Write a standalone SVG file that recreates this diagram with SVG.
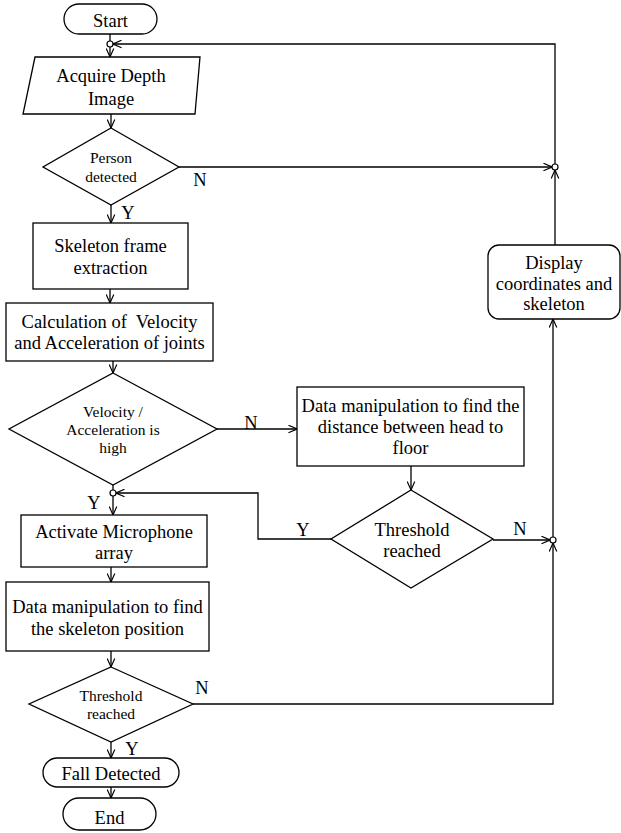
<svg xmlns="http://www.w3.org/2000/svg" width="621" height="833" viewBox="0 0 621 833">
<style>
.s{fill:#fff;stroke:#000;stroke-width:1.3}
.t{font-family:"Liberation Serif","Times New Roman",serif;font-size:18.5px;fill:#000;text-anchor:middle}
.sm{font-size:15.5px}
.c{fill:none;stroke:#000;stroke-width:1.3}
.j{fill:#fff;stroke:#000;stroke-width:1.2}
</style>
<defs>
<marker id="arr" viewBox="0 0 10 10" refX="10" refY="5" markerWidth="9" markerHeight="9" markerUnits="userSpaceOnUse" orient="auto">
<path d="M0.5,0.8 L10,5 L0.5,9.2" fill="none" stroke="#000" stroke-width="1.3"/>
</marker>
</defs>
<g id="connectors">
<path class="c" d="M110,34 V41"/>
<path class="c" d="M110,47 V57" marker-end="url(#arr)"/>
<path class="c" d="M111,114 V128" marker-end="url(#arr)"/>
<path class="c" d="M111,205 V223" marker-end="url(#arr)"/>
<path class="c" d="M110,289 V303" marker-end="url(#arr)"/>
<path class="c" d="M113,361 V373" marker-end="url(#arr)"/>
<path class="c" d="M217,429 H297" marker-end="url(#arr)"/>
<path class="c" d="M113,485 V490"/>
<path class="c" d="M113,496 V515" marker-end="url(#arr)"/>
<path class="c" d="M411,466 V490" marker-end="url(#arr)"/>
<path class="c" d="M331,539 H258 V493 H116" marker-end="url(#arr)"/>
<path class="c" d="M493,540 H550" marker-end="url(#arr)"/>
<path class="c" d="M111,567 V582" marker-end="url(#arr)"/>
<path class="c" d="M111,651 V667" marker-end="url(#arr)"/>
<path class="c" d="M193,704 H553 V543" marker-end="url(#arr)"/>
<path class="c" d="M111,742 V758" marker-end="url(#arr)"/>
<path class="c" d="M111,787 V798" marker-end="url(#arr)"/>
<path class="c" d="M553,537 V319" marker-end="url(#arr)"/>
<path class="c" d="M555,245 V170" marker-end="url(#arr)"/>
<path class="c" d="M179,167 H552" marker-end="url(#arr)"/>
<path class="c" d="M555,164 V44 H113" marker-end="url(#arr)"/>
<circle class="j" cx="110" cy="44" r="3"/>
<circle class="j" cx="555" cy="167" r="3"/>
<circle class="j" cx="113" cy="493" r="3"/>
<circle class="j" cx="553" cy="540" r="3"/>
<text class="t" x="200" y="186">N</text>
<text class="t" x="128" y="219">Y</text>
<text class="t" x="251" y="429">N</text>
<text class="t" x="94" y="509">Y</text>
<text class="t" x="303" y="536">Y</text>
<text class="t" x="520" y="535">N</text>
<text class="t" x="202" y="694">N</text>
<text class="t" x="132" y="755">Y</text>
</g>
<g id="start">
<rect class="s" x="64" y="4" width="93" height="30" rx="15"/>
<text class="t" x="110.5" y="27">Start</text>
</g>
<g id="acquire">
<polygon class="s" points="35,57 200,57 195,114 23,114"/>
<text class="t" x="111" y="82">Acquire Depth</text>
<text class="t" x="111" y="105">Image</text>
</g>
<g id="person">
<polygon class="s" points="111,128 179,167 111,205 43,167"/>
<text class="t sm" x="111" y="163">Person</text>
<text class="t sm" x="111" y="182">detected</text>
</g>
<g id="skeleton">
<rect class="s" x="33" y="223" width="155" height="66"/>
<text class="t" x="110.5" y="252">Skeleton frame</text>
<text class="t" x="110.5" y="274">extraction</text>
</g>
<g id="calc">
<rect class="s" x="6" y="303" width="207" height="58"/>
<text class="t" x="109.5" y="328" xml:space="preserve">Calculation of  Velocity</text>
<text class="t" x="109.5" y="349">and Acceleration of joints</text>
</g>
<g id="velocity">
<polygon class="s" points="113,373 217,429 113,485 9,429"/>
<text class="t sm" x="113" y="417">Velocity /</text>
<text class="t sm" x="113" y="435">Acceleration is</text>
<text class="t sm" x="113" y="453">high</text>
</g>
<g id="datahead">
<rect class="s" x="297" y="387" width="227" height="79"/>
<text class="t" x="410.5" y="412">Data manipulation to find the</text>
<text class="t" x="410.5" y="433">distance between head to</text>
<text class="t" x="410.5" y="454">floor</text>
</g>
<g id="threshold1">
<polygon class="s" points="411,490 493,539 411,588 331,539"/>
<text class="t" x="412" y="536">Threshold</text>
<text class="t" x="412" y="557">reached</text>
</g>
<g id="display">
<rect class="s" x="488" y="245" width="132" height="74" rx="11"/>
<text class="t" x="554" y="269">Display</text>
<text class="t" x="554" y="290">coordinates and</text>
<text class="t" x="554" y="310">skeleton</text>
</g>
<g id="activate">
<rect class="s" x="21" y="515" width="186" height="52"/>
<text class="t" x="114" y="538">Activate Microphone</text>
<text class="t" x="114" y="559">array</text>
</g>
<g id="dataskel">
<rect class="s" x="6" y="582" width="203" height="69"/>
<text class="t" x="107.5" y="613">Data manipulation to find</text>
<text class="t" x="107.5" y="635">the skeleton position</text>
</g>
<g id="threshold2">
<polygon class="s" points="111,667 193,704 111,742 29,704"/>
<text class="t sm" x="111" y="701">Threshold</text>
<text class="t sm" x="111" y="719">reached</text>
</g>
<g id="fall">
<rect class="s" x="43" y="758" width="136" height="29" rx="14.5"/>
<text class="t" x="111" y="780">Fall Detected</text>
</g>
<g id="end">
<rect class="s" x="63" y="798" width="93" height="32" rx="16"/>
<text class="t" x="109.5" y="824">End</text>
</g>
</svg>
